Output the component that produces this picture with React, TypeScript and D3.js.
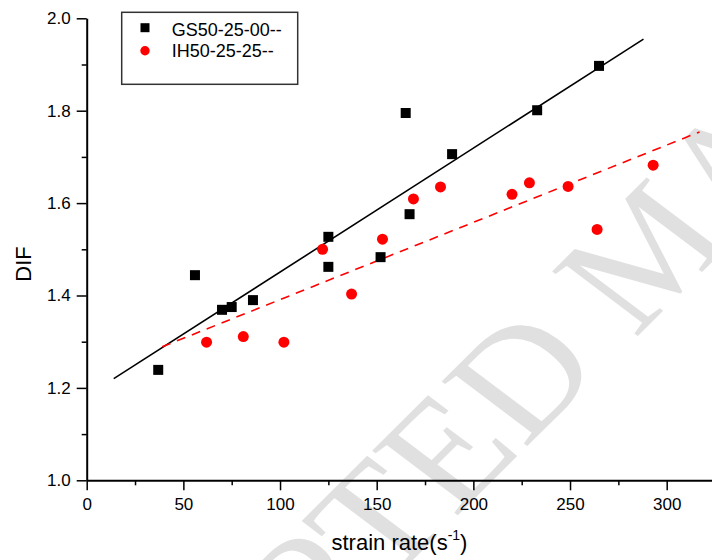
import { useEffect, useRef } from 'react'
import * as d3 from 'd3'

// GS50-25-00-- (black squares)
const gsRate = [37, 56, 70, 75, 86, 125, 125, 152, 165, 167, 189, 233, 265]
const gsDif  = [1.239, 1.444, 1.369, 1.375, 1.39, 1.527, 1.462, 1.483, 1.795, 1.576, 1.706, 1.801, 1.897]

// IH50-25-25-- (red circles)
const ihRate = [62, 81, 102, 122, 137, 153, 169, 183, 220, 229, 249, 264, 293]
const ihDif  = [1.299, 1.311, 1.299, 1.5, 1.403, 1.522, 1.609, 1.635, 1.619, 1.644, 1.636, 1.543, 1.682]

// linear fits, as drawn (end points)
const gsFitRate = [14, 288]
const gsFitDif  = [1.22, 1.955]
const ihFitRate = [39, 317]
const ihFitDif  = [1.289, 1.754]

const xTicks = [0, 50, 100, 150, 200, 250, 300]
const xMinor = [25, 75, 125, 175, 225, 275, 325]
const yTicks = [1.0, 1.2, 1.4, 1.6, 1.8, 2.0]
const yMinor = [1.1, 1.3, 1.5, 1.7, 1.9]

const W = 712
const H = 560
const X0 = 86.7
const PX_PER = 1.9333
const FONT = 'Liberation Sans, Arial, sans-serif'
const RED = '#ff0000'

export default function App() {
  const ref = useRef<SVGSVGElement>(null)

  useEffect(() => {
    if (!ref.current) return
    const svg = d3.select(ref.current)
    svg.selectAll('*').remove()

    const x = d3.scaleLinear().domain([0, 325]).range([X0, X0 + 325 * PX_PER])
    const y = d3.scaleLinear().domain([1.0, 2.0]).range([480.3, 18.3])

    // ── watermark (page image is a little stretched sideways) ─
    svg.append('text')
      .attr('transform', 'translate(693,281) scale(1.155,1) rotate(-49)')
      .attr('text-anchor', 'middle')
      .attr('font-family', 'Liberation Serif, Times New Roman, serif')
      .attr('font-size', 150)
      .attr('fill', '#e0e0e0')
      .text('ACCEPTED MANUSCRIPT')

    // ── axes ──────────────────────────────────────────────────
    const xAxis = svg.append('g').attr('transform', `translate(0,${y(1.0)})`)
      .call(d3.axisBottom(x).tickValues(xTicks).tickSize(10).tickSizeOuter(0).tickPadding(8)
        .tickFormat(d3.format('d')))
    xAxis.select('.domain').attr('stroke-width', 2)
    xAxis.selectAll('.tick line').attr('stroke-width', 1.5)
    xAxis.selectAll('text').attr('font-family', FONT).attr('font-size', 17).attr('fill', '#000')

    const xMin = svg.append('g').attr('transform', `translate(0,${y(1.0)})`)
      .call(d3.axisBottom(x).tickValues(xMinor).tickSize(5).tickFormat(() => ''))
    xMin.select('.domain').remove()
    xMin.selectAll('.tick line').attr('stroke-width', 1.5)

    const yAxis = svg.append('g').attr('transform', `translate(${X0},0)`)
      .call(d3.axisLeft(y).tickValues(yTicks).tickSize(10).tickSizeOuter(0).tickPadding(6)
        .tickFormat(d3.format('.1f')))
    yAxis.select('.domain').attr('stroke-width', 2)
    yAxis.selectAll('.tick line').attr('stroke-width', 1.5)
    yAxis.selectAll('text').attr('font-family', FONT).attr('font-size', 17).attr('fill', '#000')

    const yMin = svg.append('g').attr('transform', `translate(${X0},0)`)
      .call(d3.axisLeft(y).tickValues(yMinor).tickSize(5).tickFormat(() => ''))
    yMin.select('.domain').remove()
    yMin.selectAll('.tick line').attr('stroke-width', 1.5)

    // ── axis titles ───────────────────────────────────────────
    svg.append('text')
      .attr('transform', 'translate(31,264) rotate(-90)')
      .attr('text-anchor', 'middle')
      .attr('font-family', FONT)
      .attr('font-size', 22)
      .text('DIF')

    const xt = svg.append('text')
      .attr('x', 331.5)
      .attr('y', 550)
      .attr('font-family', FONT)
      .attr('font-size', 22)
    xt.append('tspan').text('strain rate(s')
    xt.append('tspan').attr('font-size', 14).attr('dy', -10).text('-1')
    xt.append('tspan').attr('dy', 10).text(')')

    // ── fit lines ─────────────────────────────────────────────
    const line = d3.line<[number, number]>().x(d => x(d[0])).y(d => y(d[1]))
    svg.append('path')
      .attr('d', line(d3.zip(gsFitRate, gsFitDif) as [number, number][]))
      .attr('fill', 'none').attr('stroke', '#000').attr('stroke-width', 1.6)
    svg.append('path')
      .attr('d', line(d3.zip(ihFitRate, ihFitDif) as [number, number][]))
      .attr('fill', 'none').attr('stroke', RED).attr('stroke-width', 1.6)
      .attr('stroke-dasharray', '9,7')

    // ── points ────────────────────────────────────────────────
    const sq = 10
    svg.append('g').selectAll('rect')
      .data(d3.zip(gsRate, gsDif))
      .join('rect')
      .attr('x', d => x(d[0]) - sq / 2)
      .attr('y', d => y(d[1]) - sq / 2)
      .attr('width', sq).attr('height', sq)
      .attr('fill', '#000')

    svg.append('g').selectAll('circle')
      .data(d3.zip(ihRate, ihDif))
      .join('circle')
      .attr('cx', d => x(d[0]))
      .attr('cy', d => y(d[1]))
      .attr('r', 5.5)
      .attr('fill', RED)

    // ── legend ────────────────────────────────────────────────
    const lg = svg.append('g')
    lg.append('rect')
      .attr('x', 121.7).attr('y', 12.3).attr('width', 176).attr('height', 72)
      .attr('fill', '#fff').attr('stroke', '#333').attr('stroke-width', 1.5)
    lg.append('rect').attr('x', 140.5).attr('y', 23.2).attr('width', 9).attr('height', 9).attr('fill', '#000')
    lg.append('circle').attr('cx', 145).attr('cy', 50.7).attr('r', 4.7).attr('fill', RED)
    lg.append('text').attr('x', 171.7).attr('y', 35.5)
      .attr('font-family', FONT).attr('font-size', 18).text('GS50-25-00--')
    lg.append('text').attr('x', 171.7).attr('y', 57.3)
      .attr('font-family', FONT).attr('font-size', 18).text('IH50-25-25--')
  }, [])

  return (
    <svg
      ref={ref}
      width={W}
      height={H}
      viewBox={`0 0 ${W} ${H}`}
      style={{ position: 'absolute', left: 0, top: 0, display: 'block', background: '#fff' }}
    />
  )
}
